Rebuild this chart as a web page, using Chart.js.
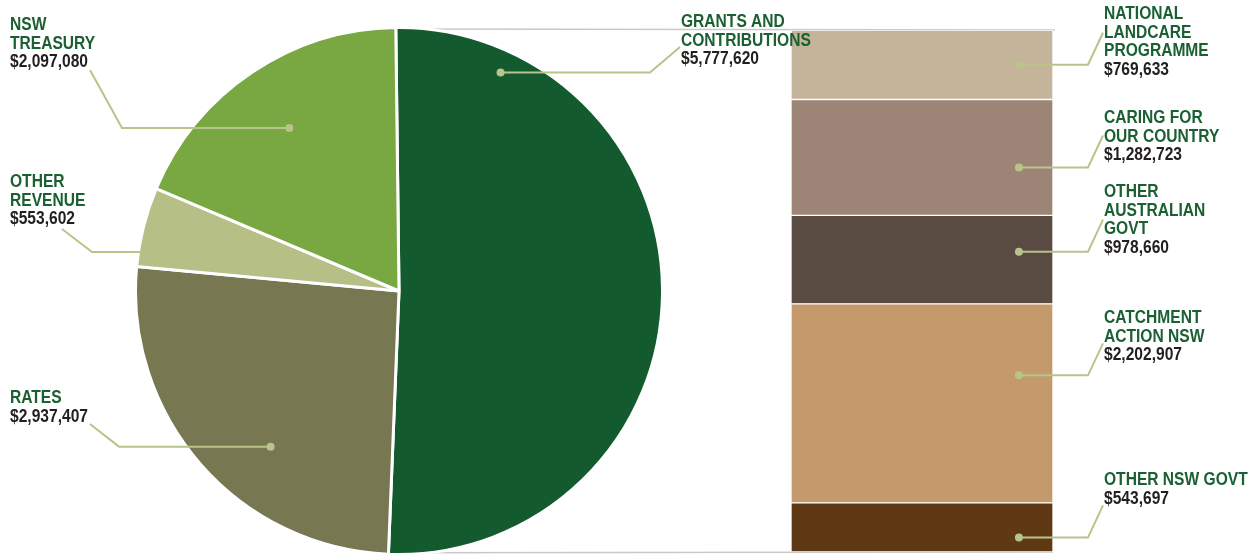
<!DOCTYPE html>
<html>
<head>
<meta charset="utf-8">
<script src="https://cdn.jsdelivr.net/npm/chart.js@4.4.1/dist/chart.umd.min.js"></script>
<style>
    html, body { margin: 0; padding: 0; background: #fff; }
    #wrap { position: relative; width: 1258px; height: 554px; overflow: hidden; }
    #wrap canvas { position: absolute; left: 0; top: 0; }
</style>
</head>
<body>
<div id="wrap">
    <canvas id="barChart" width="1258" height="554"></canvas>
    <canvas id="pieChart" width="1258" height="554"></canvas>
</div>
<script>
'use strict';

// total revenue, clockwise from 12 o'clock
var revenueLabels = [['GRANTS AND', 'CONTRIBUTIONS'], ['RATES'], ['OTHER', 'REVENUE'], ['NSW', 'TREASURY']];
var revenueValues = [5777620, 2937407, 553602, 2097080];
var revenueColors = ['#135b2e', '#777751', '#b5bf86', '#79a843'];

// grants and contributions breakdown, top to bottom
var grantLabels = [['NATIONAL', 'LANDCARE', 'PROGRAMME'], ['CARING FOR', 'OUR COUNTRY'], ['OTHER', 'AUSTRALIAN', 'GOVT'], ['CATCHMENT', 'ACTION NSW'], ['OTHER NSW GOVT']];
var grantValues = [769633, 1282723, 978660, 2202907, 543697];
var grantColors = ['#c4b49a', '#9c8577', '#5a4b42', '#c49a6c', '#5f3914'];

// where the callouts sit (t = position inside the slice, f = fraction of radius)
var pieCallouts = [
    { textX: 681, textY: 27, t: 0.14, f: 0.92, dot: true, elbowX: 650, endX: 680, endY: 47 },
    { textX: 10, textY: 403, t: 0.40, f: 0.77, dot: true, elbowX: 119, endX: 90, endY: 424 },
    { textX: 10, textY: 187, t: 0.185, f: 0.995, dot: false, elbowX: 92, endX: 62, endY: 229 },
    { textX: 10, textY: 30, t: 0.50, f: 0.75, dot: true, elbowX: 122, endX: 90, endY: 70 }
];
var barCallouts = [
    { textY: 19, dy: 0 },
    { textY: 123, dy: 10 },
    { textY: 197, dy: -8 },
    { textY: 323, dy: -28 },
    { textY: 485, dy: 10 }
];

var LINE_H = 18.7;
var LEADER = '#b8c48a';
var GREEN_TEXT = '#1a6032';
var VALUE_TEXT = '#231f20';

function hasFont(name) {
    var c = document.createElement('canvas').getContext('2d');
    c.font = 'bold 40px monospace';
    var a = c.measureText('TREASURY wide 0123').width;
    c.font = 'bold 40px "' + name + '", monospace';
    var b = c.measureText('TREASURY wide 0123').width;
    return a !== b;
}
var narrow = hasFont('Liberation Sans Narrow');

function drawText(ctx, s, x, y) {
    ctx.save();
    if (narrow) {
        ctx.font = 'bold 19px "Liberation Sans Narrow"';
        ctx.fillText(s, x, y);
    } else {
        // squeeze a regular face when no narrow one is around
        ctx.font = 'bold 19px "Liberation Sans", Arial, sans-serif';
        ctx.translate(x, y);
        ctx.scale(0.82, 1);
        ctx.fillText(s, 0, 0);
    }
    ctx.restore();
}

function drawLabel(ctx, lines, value, x, y) {
    ctx.textBaseline = 'alphabetic';
    ctx.textAlign = 'left';
    ctx.fillStyle = GREEN_TEXT;
    lines.forEach(function (s, i) {
        drawText(ctx, s, x, y + i * LINE_H);
    });
    ctx.fillStyle = VALUE_TEXT;
    drawText(ctx, '$' + value.toLocaleString('en-US'), x, y + lines.length * LINE_H);
}

function drawLeader(ctx, pts, dot) {
    ctx.save();
    ctx.strokeStyle = LEADER;
    ctx.fillStyle = LEADER;
    ctx.lineWidth = 2;
    ctx.beginPath();
    ctx.moveTo(pts[0][0], pts[0][1]);
    for (var i = 1; i < pts.length; i++) {
        ctx.lineTo(pts[i][0], pts[i][1]);
    }
    ctx.stroke();
    if (dot) {
        ctx.beginPath();
        ctx.arc(pts[0][0], pts[0][1], 4, 0, Math.PI * 2);
        ctx.fill();
    }
    ctx.restore();
}

var pieLabelsPlugin = {
    id: 'pieLabels',
    afterDraw: function (chart) {
        var ctx = chart.ctx;
        var arcs = chart.getDatasetMeta(0).data;
        arcs.forEach(function (arc, i) {
            var p = arc.getProps(['x', 'y', 'startAngle', 'endAngle', 'outerRadius'], true);
            var c = pieCallouts[i];
            var a = p.startAngle + c.t * (p.endAngle - p.startAngle);
            var r = c.f * (p.outerRadius - 1.5);
            var dx = p.x + Math.cos(a) * r;
            var dy = p.y + Math.sin(a) * r;
            drawLeader(ctx, [[dx, dy], [c.elbowX, dy], [c.endX, c.endY]], c.dot);
            drawLabel(ctx, revenueLabels[i], revenueValues[i], c.textX, c.textY);
        });
    }
};

var pieCtx = document.getElementById('pieChart').getContext('2d');
var pieChart = new Chart(pieCtx, {
    type: 'pie',
    data: {
        labels: revenueLabels.map(function (l) { return l.join(' '); }),
        datasets: [{
            data: revenueValues,
            backgroundColor: revenueColors,
            borderColor: '#ffffff',
            borderWidth: 3
        }]
    },
    options: {
        responsive: false,
        animation: false,
        rotation: -0.7,
        radius: 263.5,
        layout: {
            padding: { left: 137, right: 597, top: 29, bottom: 1 }
        },
        plugins: {
            legend: { display: false },
            tooltip: { enabled: false }
        }
    },
    plugins: [pieLabelsPlugin]
});

var barLabelsPlugin = {
    id: 'barLabels',
    beforeDatasetsDraw: function (chart) {
        // thin grey lines joining the grants slice to the breakdown bar
        var ctx = chart.ctx;
        var arc = pieChart.getDatasetMeta(0).data[0].getProps(['x', 'y', 'startAngle', 'endAngle', 'outerRadius'], true);
        var r = arc.outerRadius - 1.5;
        var top = chart.getDatasetMeta(grantValues.length - 1).data[0].getProps(['x', 'y', 'width'], true);
        var bottom = chart.getDatasetMeta(0).data[0].getProps(['x', 'base', 'width'], true);
        ctx.save();
        ctx.strokeStyle = '#c9c9c9';
        ctx.lineWidth = 1.5;
        ctx.beginPath();
        ctx.moveTo(arc.x + Math.cos(arc.startAngle) * r, arc.y + Math.sin(arc.startAngle) * r);
        ctx.lineTo(top.x + top.width / 2 + 2, top.y);
        ctx.moveTo(arc.x + Math.cos(arc.endAngle) * r, arc.y + Math.sin(arc.endAngle) * r);
        ctx.lineTo(bottom.x + bottom.width / 2, bottom.base);
        ctx.stroke();
        ctx.restore();
    },
    afterDraw: function (chart) {
        var ctx = chart.ctx;
        var n = grantValues.length;
        grantValues.forEach(function (v, i) {
            // datasets are stacked bottom-up, so reverse the index
            var bar = chart.getDatasetMeta(n - 1 - i).data[0].getProps(['x', 'y', 'base', 'width'], true);
            var c = barCallouts[i];
            var dotX = bar.x + 0.37 * bar.width;
            var dotY = (bar.y + bar.base) / 2 + c.dy;
            var elbowX = bar.x + bar.width / 2 + 35;
            drawLeader(ctx, [[dotX, dotY], [elbowX, dotY], [elbowX + 15, dotY - 32]], true);
            drawLabel(ctx, grantLabels[i], v, elbowX + 16, c.textY);
        });
    }
};

var grantTotal = grantValues.reduce(function (a, b) { return a + b; }, 0);
var barDatasets = grantValues.map(function (v, i) {
    return {
        label: grantLabels[i].join(' '),
        data: [v],
        backgroundColor: grantColors[i],
        borderColor: '#ffffff',
        borderWidth: 1,
        borderSkipped: false,
        barPercentage: 1,
        categoryPercentage: 1
    };
}).reverse();

var barCtx = document.getElementById('barChart').getContext('2d');
var barChart = new Chart(barCtx, {
    type: 'bar',
    data: {
        labels: ['Grants and contributions'],
        datasets: barDatasets
    },
    options: {
        responsive: false,
        animation: false,
        layout: {
            padding: { left: 791, right: 205, top: 30, bottom: 2 }
        },
        scales: {
            x: { display: false, stacked: true },
            y: { display: false, stacked: true, min: 0, max: grantTotal }
        },
        plugins: {
            legend: { display: false },
            tooltip: { enabled: false }
        }
    },
    plugins: [barLabelsPlugin]
});
</script>
</body>
</html>
